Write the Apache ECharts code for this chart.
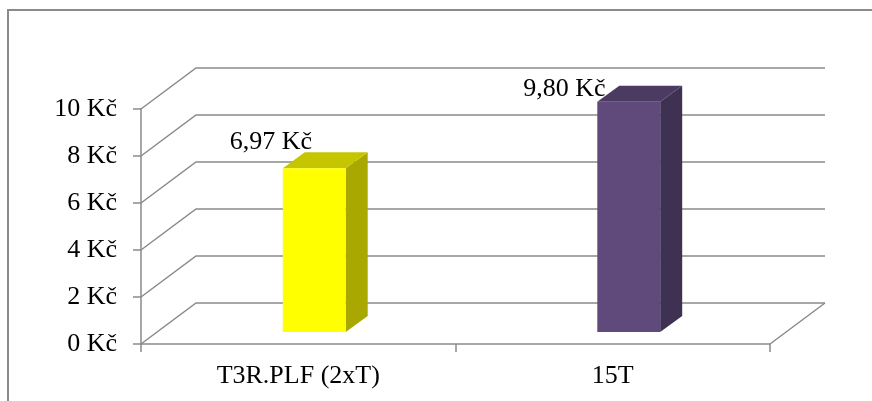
<!DOCTYPE html>
<html>
<head>
<meta charset="utf-8">
<script src="https://cdn.jsdelivr.net/npm/echarts@6/dist/echarts.min.js"></script>
<style>
  html, body { margin: 0; padding: 0; background: #fff; }
  #chart { width: 872px; height: 401px; }
</style>
</head>
<body>
<div id="chart"></div>
<script>
// data
var categories = ['T3R.PLF (2xT)', '15T'];
var prices = [6.97, 9.80];
var priceLabels = ['6,97 Kč', '9,80 Kč'];
var yTicks = [0, 2, 4, 6, 8, 10];

// look
var FONT = "'Liberation Serif', 'Times New Roman', serif";
var GRID_COLOR = '#8a8a8a';
var WALL = [55, -41];      // depth of the back wall
var BAR_SHIFT = [16, -12]; // bar front face sits a bit inside the floor
var BAR_DEPTH = [22, -16];
var faceColors = [
    { front: '#ffff00', side: '#a8a800', top: '#c6c600' },
    { front: '#604a7b', side: '#3f3151', top: '#4b3a62' }
];
var labelShift = [[-12, -26], [-33, -13]];

var chart = echarts.init(document.getElementById('chart'));

function renderWall(params, api) {
    var cs = params.coordSys;
    var v = api.value(1);
    var y = api.coord([0, v])[1];
    var x0 = cs.x, x1 = cs.x + cs.width;
    var children = [{
        type: 'polyline',
        shape: { points: [[x0, y], [x0 + WALL[0], y + WALL[1]], [x1 + WALL[0], y + WALL[1]]] },
        style: { stroke: GRID_COLOR, lineWidth: 1.5, fill: null }
    }];
    if (v === 0) {
        children.push({
            type: 'line',
            shape: { x1: x1, y1: y, x2: x1 + WALL[0], y2: y + WALL[1] },
            style: { stroke: GRID_COLOR, lineWidth: 1.5 }
        });
    }
    return { type: 'group', children: children };
}

function renderBar(params, api) {
    var i = params.dataIndex;
    var cat = api.value(0), val = api.value(1);
    var base = api.coord([cat, 0]);
    var top = api.coord([cat, val]);
    var w = api.size([1, 0])[0] * 0.2;
    var x0 = base[0] - w / 2 + BAR_SHIFT[0];
    var x1 = x0 + w;
    var yb = base[1] + BAR_SHIFT[1];
    var yt = top[1] + BAR_SHIFT[1];
    var dx = BAR_DEPTH[0], dy = BAR_DEPTH[1];
    var c = faceColors[i];
    return {
        type: 'group',
        children: [
            { type: 'polygon', shape: { points: [[x1, yt], [x1 + dx, yt + dy], [x1 + dx, yb + dy], [x1, yb]] },
              style: { fill: c.side } },
            { type: 'polygon', shape: { points: [[x0, yt], [x0 + dx, yt + dy], [x1 + dx, yt + dy], [x1, yt]] },
              style: { fill: c.top } },
            { type: 'rect', shape: { x: x0, y: yt, width: w, height: yb - yt },
              style: { fill: c.front } },
            { type: 'text', x: x0 + labelShift[i][0], y: yt + labelShift[i][1],
              style: { text: priceLabels[i], font: '26px ' + FONT, fill: '#000',
                       align: 'center', verticalAlign: 'middle' } }
        ]
    };
}

var option = {
    animation: false,
    graphic: [{
        type: 'rect',
        shape: { x: 8, y: 10, width: 900, height: 420 },
        style: { fill: null, stroke: GRID_COLOR, lineWidth: 2 },
        z: 0
    }],
    grid: { left: 141, right: 102, top: 109, bottom: 57 },
    xAxis: {
        type: 'category',
        data: categories,
        axisLine: { lineStyle: { color: GRID_COLOR, width: 1.5 } },
        axisTick: { show: true, length: 8, lineStyle: { color: GRID_COLOR, width: 1.5 } },
        axisLabel: { color: '#000', fontFamily: FONT, fontSize: 26, margin: 19 },
        splitLine: { show: false }
    },
    yAxis: {
        type: 'value',
        min: 0,
        max: 10,
        interval: 2,
        axisLine: { show: true, lineStyle: { color: GRID_COLOR, width: 1.5 } },
        axisTick: { show: true, length: 8, lineStyle: { color: GRID_COLOR, width: 1.5 } },
        axisLabel: { color: '#000', fontFamily: FONT, fontSize: 26, margin: 24,
                     formatter: '{value} Kč' },
        splitLine: { show: false }
    },
    series: [
        {
            type: 'custom',
            renderItem: renderWall,
            data: yTicks.map(function (v) { return [0, v]; }),
            encode: { x: 0, y: 1 },
            clip: false,
            silent: true,
            z: 1
        },
        {
            type: 'custom',
            renderItem: renderBar,
            data: prices.map(function (p, i) { return [i, p]; }),
            encode: { x: 0, y: 1 },
            clip: false,
            z: 5
        }
    ]
};
chart.setOption(option);
</script>
</body>
</html>
